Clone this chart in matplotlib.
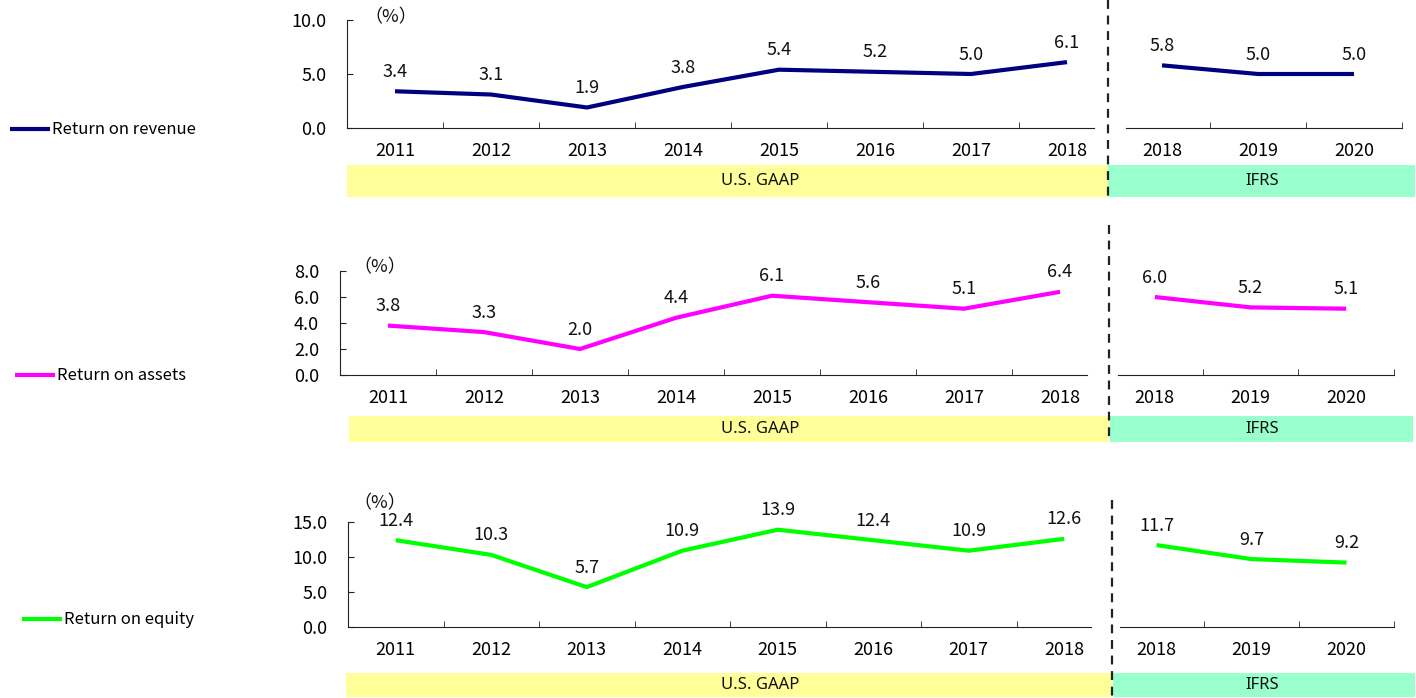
import matplotlib
matplotlib.use('Agg')
import numpy as np
import matplotlib.pyplot as plt
from matplotlib.lines import Line2D
from matplotlib.patches import Rectangle

plt.rcParams['font.family'] = ['Noto Sans CJK JP', 'DejaVu Sans']

# %% data
years_gaap = ['2011', '2012', '2013', '2014', '2015', '2016', '2017', '2018']
years_ifrs = ['2018', '2019', '2020']

ror_gaap = [3.4, 3.1, 1.9, 3.8, 5.4, 5.2, 5.0, 6.1]
ror_ifrs = [5.8, 5.0, 5.0]
roa_gaap = [3.8, 3.3, 2.0, 4.4, 6.1, 5.6, 5.1, 6.4]
roa_ifrs = [6.0, 5.2, 5.1]
roe_gaap = [12.4, 10.3, 5.7, 10.9, 13.9, 12.4, 10.9, 12.6]
roe_ifrs = [11.7, 9.7, 9.2]

names = ['Return on revenue', 'Return on assets', 'Return on equity']
yticks_list = [[0, 5, 10], [0, 2, 4, 6, 8], [0, 5, 10, 15]]

# %% layout (pixels of a 1416x698 picture)
W, H = 1416, 698
fx = lambda x: x / W
fy = lambda y: 1 - y / H

layout = [
    dict(left=(347, 1115), right=(1114, 1402), ytop=20, ybot=128, band=(165, 197),
         yellow=(347, 1108), green=(1108, 1415), dash=(1108, 0, 197),
         unit=(364, 17), leg=(10, 130), color='#000080'),
    dict(left=(340, 1108), right=(1107, 1394), ytop=271, ybot=375, band=(416, 442),
         yellow=(349, 1109), green=(1110, 1413), dash=(1109, 225, 442),
         unit=(353, 267), leg=(15, 376), color='#FF00FF'),
    dict(left=(348, 1112), right=(1109, 1394), ytop=522, ybot=627, band=(673, 697),
         yellow=(346, 1112), green=(1113, 1415), dash=(1112, 500, 698),
         unit=(353, 503), leg=(22, 620), color='#00FF00'),
]
series = [(ror_gaap, ror_ifrs), (roa_gaap, roa_ifrs), (roe_gaap, roe_ifrs)]

fs = 13
fig = plt.figure(figsize=(14.16, 6.98), dpi=100)


def style_axis(ax, ncat, yt, bounds):
    ax.set_xlim(-0.5, ncat - 0.5)
    ax.set_ylim(yt[0], yt[-1])
    ax.set_facecolor('none')
    ax.spines['top'].set_visible(False)
    ax.spines['right'].set_visible(False)
    ax.spines['bottom'].set_bounds(*bounds)
    ax.spines['bottom'].set_color('#222222')
    ax.spines['left'].set_color('#222222')
    ax.set_xticks(np.arange(ncat))
    ax.tick_params(axis='x', which='major', length=0, pad=10, labelsize=fs)
    ax.tick_params(axis='x', which='minor', direction='in', length=4, color='#222222')
    ax.tick_params(axis='y', direction='in', length=4, pad=15, labelsize=fs, color='#222222')


for lay, (gaap, ifrs), name, yt in zip(layout, series, names, yticks_list):
    h = (lay['ybot'] - lay['ytop']) / H
    l0, l1 = lay['left']
    r0, r1 = lay['right']
    axl = fig.add_axes([fx(l0), fy(lay['ybot']), (l1 - l0) / W, h])
    axr = fig.add_axes([fx(r0), fy(lay['ybot']), (r1 - r0) / W, h])

    style_axis(axl, len(years_gaap), yt, (-0.5, 7.28))
    axl.set_xticks(np.arange(len(years_gaap) - 1) + 0.5, minor=True)
    axl.set_xticklabels(years_gaap)
    axl.set_yticks(yt)
    axl.set_yticklabels([f'{v:.1f}' for v in yt])

    style_axis(axr, len(years_ifrs), yt, (-0.38, 2.5))
    axr.set_xticks(np.arange(len(years_ifrs)) + 0.5, minor=True)
    axr.set_xticklabels(years_ifrs)
    axr.spines['left'].set_visible(False)
    axr.set_yticks([])

    line, = axl.plot(np.arange(len(gaap)), gaap, color=lay['color'], lw=3,
                     solid_capstyle='butt', clip_on=False, label=name)
    axr.plot(np.arange(len(ifrs)), ifrs, color=lay['color'], lw=3,
             solid_capstyle='butt', clip_on=False)
    for ax, vals in ((axl, gaap), (axr, ifrs)):
        for i, v in enumerate(vals):
            ax.annotate(f'{v:.1f}', (i, v), xytext=(0, 14), textcoords='offset points',
                        ha='center', va='center', fontsize=fs, color='#111111',
                        annotation_clip=False)

    fig.text(fx(lay['unit'][0]), fy(lay['unit'][1]), '（%）', fontsize=fs,
             ha='left', va='center', color='#111111')

    # accounting standard bands
    b0, b1 = lay['band']
    for (x0, x1), col in ((lay['yellow'], '#FFFF99'), (lay['green'], '#99FFCC')):
        fig.add_artist(Rectangle((fx(x0), fy(b1)), (x1 - x0) / W, (b1 - b0) / H,
                                 transform=fig.transFigure, facecolor=col,
                                 edgecolor='none', zorder=0))
    fig.text(fx(760), fy((b0 + b1) / 2), 'U.S. GAAP', fontsize=12, ha='center',
             va='center', family=['Noto Sans', 'DejaVu Sans'], color='#111111')
    fig.text(fx(1262), fy((b0 + b1) / 2), 'IFRS', fontsize=12, ha='center',
             va='center', family=['Noto Sans', 'DejaVu Sans'], color='#111111')

    dx, dy0, dy1 = lay['dash']
    fig.add_artist(Line2D([fx(dx), fx(dx)], [fy(dy0), fy(dy1)], transform=fig.transFigure,
                          color='#222222', lw=1.6, linestyle=(0, (4, 3)), zorder=5))

    fig.legend(handles=[line], loc='center left',
               bbox_to_anchor=(fx(lay['leg'][0]), fy(lay['leg'][1])),
               frameon=False, fontsize=12, handlelength=2.4, handletextpad=0.15,
               borderpad=0, borderaxespad=0)

fig.savefig('out.png', dpi=100)
